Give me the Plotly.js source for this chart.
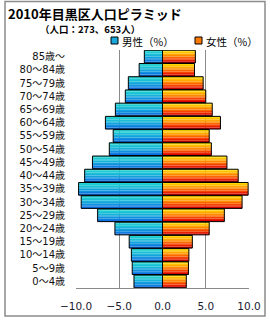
<!DOCTYPE html>
<html>
<head>
<meta charset="utf-8">
<script src="https://cdn.plot.ly/plotly-3.0.1.min.js"></script>
<style>html,body{margin:0;padding:0;background:#fff;}#chart{width:270px;height:320px;}</style>
</head>
<body>
<div id="chart"></div>
<script>
// Age groups (bottom to top)
const categories = ["0～4歳","5～9歳","10～14歳","15～19歳","20～24歳","25～29歳","30～34歳","35～39歳","40～44歳","45～49歳","50～54歳","55～59歳","60～64歳","65～69歳","70～74歳","75～79歳","80～84歳","85歳～"];
// Percent of population
const maleValues = [3.3,3.5,3.6,3.85,5.5,7.5,9.4,9.7,9.0,8.1,6.15,5.7,6.6,5.45,4.3,3.95,2.7,2.1];
const femaleValues = [2.75,3.0,3.05,3.45,5.4,7.15,9.2,9.9,8.75,7.45,5.65,5.4,6.7,5.75,5.0,4.7,3.7,3.8];
const xTickVals = [-10,-5,0,5,10];
const xTickText = ["−10.0","−5.0","0.0","5.0","10.0"];
const titleText = "2010年目黒区人口ピラミッド";
const subtitleText = "（人口：273、653人）";
const maleName = "男性（%）";
const femaleName = "女性（%）";

// gradient bands, listed bottom -> top
const maleBands = ["#0a6ee0","#0d7ee0","#1090df","#14a2dd","#18b2da","#1cc0d6","#1fcad3","#22d2d0"];
const femaleBands = ["#d80000","#e82000","#f44400","#fb6600","#ff8800","#ffa600","#ffc000","#ffd800"];
const W = 0.96;
const FONT = "Noto Sans CJK JP, Noto Sans, sans-serif";
const TICKFONT = "DejaVu Sans, Noto Sans CJK JP, sans-serif";

const maleX = maleValues.map(v => -v);
const traces = [];
function addBands(xs, colors){
  const n = colors.length;
  colors.forEach((c,i)=>{
    traces.push({type:'bar', orientation:'h', y:categories, x:xs,
      width:W/n, offset:-W/2 + i*W/n,
      marker:{color:c, line:{width:0}}, showlegend:false, hoverinfo:'skip'});
  });
  traces.push({type:'bar', orientation:'h', y:categories, x:xs,
    width:W, offset:-W/2,
    marker:{color:'rgba(0,0,0,0)', line:{color:'#000', width:1}}, showlegend:false, hoverinfo:'x+y'});
}
addBands(maleX, maleBands);
addBands(femaleValues, femaleBands);

const L=76, R=249, T=50, B=288;
const px = x => (x-L)/(R-L);
const py = y => (B-y)/(B-T);

const layout = {
  width:270, height:320,
  margin:{l:L, r:270-R, t:T, b:320-B, pad:0},
  barmode:'overlay',
  paper_bgcolor:'#fff', plot_bgcolor:'#fff',
  font:{family:FONT, color:'#111', size:10},
  showlegend:false,
  xaxis:{range:[-10,10], tickvals:xTickVals, ticktext:xTickText,
    showgrid:true, gridcolor:'#8a8a8a', gridwidth:1,
    zeroline:true, zerolinecolor:'#8a8a8a', zerolinewidth:1,
    showline:true, linecolor:'#8a8a8a', linewidth:1,
    ticks:'', ticklabelstandoff:8, tickfont:{size:10.5, color:'#1a1a33', family:TICKFONT}, fixedrange:true},
  yaxis:{type:'category', categoryorder:'array', categoryarray:categories,
    range:[-0.5, categories.length-0.5],
    showgrid:false, zeroline:false, showline:false, ticks:'',
    ticklabelstandoff:10, tickfont:{size:10, color:'#111', family:TICKFONT}, fixedrange:true},
  shapes:[
    {type:'rect', xref:'paper', yref:'paper', x0:px(5), x1:px(265), y0:py(316), y1:py(1.5),
      line:{color:'#8c8c8c', width:1.5}, fillcolor:'rgba(0,0,0,0)', layer:'below'},
    {type:'rect', xref:'paper', yref:'paper', x0:px(111), x1:px(118), y0:py(44), y1:py(37),
      line:{color:'#000', width:1}, fillcolor:'#18a8dc'},
    {type:'rect', xref:'paper', yref:'paper', x0:px(195), x1:px(202), y0:py(44), y1:py(37),
      line:{color:'#000', width:1}, fillcolor:'#ff7a00'}
  ],
  annotations:[
    {xref:'paper', yref:'paper', x:px(6), y:py(13), xanchor:'left', yanchor:'middle',
      text:'<b>'+titleText+'</b>', showarrow:false, font:{size:13, color:'#000', family:FONT}},
    {xref:'paper', yref:'paper', x:px(38), y:py(28.5), xanchor:'left', yanchor:'middle',
      text:'<b>'+subtitleText+'</b>', showarrow:false, font:{size:9.5, color:'#000', family:FONT}},
    {xref:'paper', yref:'paper', x:px(120), y:py(42), xanchor:'left', yanchor:'middle',
      text:maleName, showarrow:false, font:{size:10.5, color:'#000', family:FONT}},
    {xref:'paper', yref:'paper', x:px(204), y:py(42), xanchor:'left', yanchor:'middle',
      text:femaleName, showarrow:false, font:{size:10.5, color:'#000', family:FONT}}
  ]
};
Plotly.newPlot('chart', traces, layout, {displayModeBar:false, staticPlot:true});
</script>
</body>
</html>
